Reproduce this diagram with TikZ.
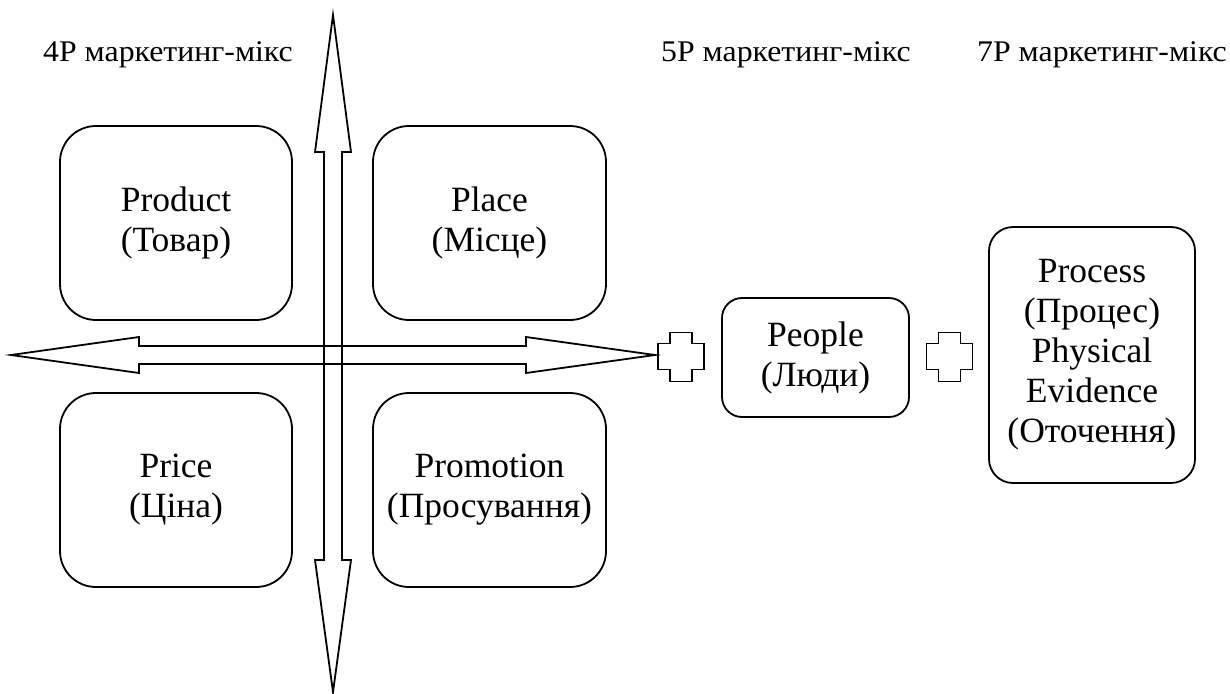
\documentclass[tikz,border=0pt]{standalone}
\usepackage{fontspec}
\setmainfont{Liberation Serif}
\newfontfamily\headfont[FakeStretch=1.06]{Liberation Serif}
\tikzset{
  outline/.style={draw=black, line width=1.8pt, line join=miter},
  pbox/.style={outline, rounded corners=36pt, align=center, inner sep=0pt,
    font=\fontsize{35.5}{40}\selectfont},
  heading/.style={anchor=base west, inner sep=0pt, font=\headfont\fontsize{30}{34}\selectfont},
  plussign/.pic={
    \draw[outline] (-11,-24) -- (11,-24) -- (11,-13) -- (23,-13) -- (23,13)
      -- (11,13) -- (11,25) -- (-11,25) -- (-11,13) -- (-23,13) -- (-23,-13)
      -- (-11,-13) -- cycle;
  }
}
\begin{document}
\begin{tikzpicture}[x=1pt, y=-1pt]
\useasboundingbox (0,0) rectangle (1230,693);

% headings
\node[heading] (h4) at (43,61) {4P маркетинг-мікс};
\node[heading] (h5) at (661,61) {5P маркетинг-мікс};
\node[heading] (h7) at (977,61) {7P маркетинг-мікс};

% the four classic P's
\node[pbox, minimum width=232pt, minimum height=194pt] (product) at (176,223) {Product\\(Товар)};
\node[pbox, minimum width=233pt, minimum height=194pt] (place) at (489.5,223) {Place\\(Місце)};
\node[pbox, minimum width=232pt, minimum height=194pt] (price) at (176,490) {Price\\(Ціна)};
\node[pbox, minimum width=233pt, minimum height=194pt] (promotion) at (489.5,490) {Promotion\\(Просування)};

% double arrows splitting the quadrants
\draw[outline] (11,355) -- (139,337) -- (139,346) -- (526,346) -- (526,337)
  -- (655,355) -- (526,373) -- (526,364) -- (139,364) -- (139,373) -- cycle;
\draw[outline] (333,15) -- (351,152) -- (342,152) -- (342,560) -- (351,560)
  -- (333,692) -- (315,560) -- (324,560) -- (324,152) -- (315,152) -- cycle;

% extensions of the mix
\pic at (681,356.5) {plussign};
\node[pbox, rounded corners=20pt, minimum width=187pt, minimum height=119pt] (people) at (815.5,357.5) {People\\(Люди)};
\pic at (949.5,356.5) {plussign};
\node[pbox, rounded corners=24pt, minimum width=206pt, minimum height=256pt] (process) at (1092,355)
  {Process\\(Процес)\\Physical\\Evidence\\(Оточення)};
\end{tikzpicture}
\end{document}
